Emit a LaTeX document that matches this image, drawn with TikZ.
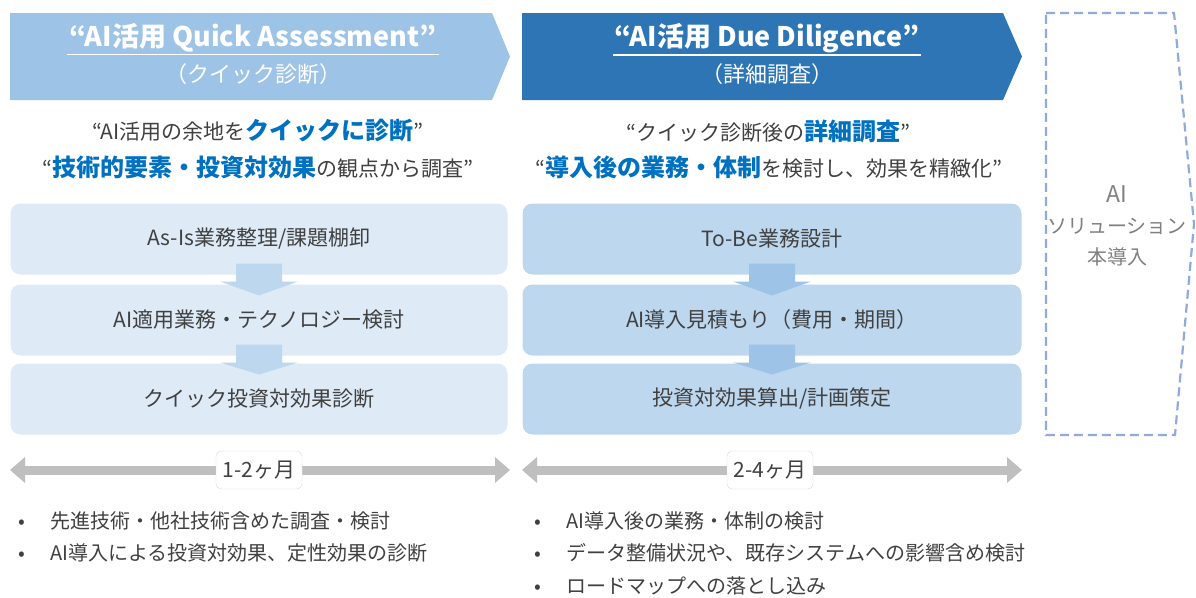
\documentclass[tikz,border=0pt]{standalone}
\usepackage{fontspec}
\setmainfont{Noto Sans CJK JP}
\usepackage{tikz}
\usetikzlibrary{arrows.meta,positioning,calc}
\definecolor{qaBlue}{HTML}{9DC3E6}
\definecolor{ddBlue}{HTML}{2E75B6}
\definecolor{qaFill}{HTML}{DEEBF7}
\definecolor{ddFill}{HTML}{BDD7EE}
\definecolor{qaArrow}{HTML}{BDD7EE}
\definecolor{ddArrow}{HTML}{9DC3E6}
\definecolor{txtGray}{HTML}{404040}
\definecolor{softGray}{HTML}{808080}
\definecolor{keyBlue}{HTML}{0070C0}
\definecolor{barGray}{HTML}{BFBFBF}
\definecolor{dashBlue}{HTML}{8FAADC}
\newcommand{\kw}[1]{{\bfseries\fontsize{24}{28}\selectfont\color{keyBlue}#1}}
\newcommand{\bul}{\makebox[16pt][c]{•}\hspace{20pt}}
% block arrow from the bottom of one step to the top of the next
\newcommand{\stepArrow}[3]{%
 \fill[#1] ($(#2.south)+(-23,-12)$) -- ($(#2.south)+(23,-12)$) -- ($(#2.south)+(23,6)$)
  -- ($(#2.south)+(39,6)$) -- ($(#3.north)+(0,12)$) -- ($(#2.south)+(-39,6)$)
  -- ($(#2.south)+(-23,6)$) -- cycle;}

\begin{document}
\begin{tikzpicture}[x=1pt,y=-1pt,
 title/.style={text=white, font=\bfseries\fontsize{27}{32}\selectfont, inner sep=2pt},
 subtitle/.style={text=white, font=\fontsize{22}{26}\selectfont},
 lead/.style={text=txtGray, font=\fontsize{21}{25}\selectfont},
 qa step/.style={draw=white, line width=1, fill=qaFill, rounded corners=10pt,
  minimum width=498, minimum height=72, text=txtGray, font=\fontsize{21}{25}\selectfont},
 dd step/.style={qa step, fill=ddFill, minimum width=500},
 span/.style={{Triangle[length=15pt,width=25pt]}-{Triangle[length=15pt,width=25pt]},
  line width=9pt, barGray},
 span label/.style={draw=barGray!60, fill=white, rounded corners=5pt, text=txtGray,
  minimum width=86, minimum height=38, font=\fontsize{21}{25}\selectfont},
 item/.style={anchor=west, text=txtGray, font=\fontsize{20}{24}\selectfont, inner sep=0pt}]
\useasboundingbox (0,0) rectangle (1196,597);

% banners
\fill[qaBlue] (10,13) -- (492,13) -- (510,56.5) -- (492,100) -- (10,100) -- cycle;
\fill[ddBlue] (522,13) -- (1003,13) -- (1022,56.5) -- (1003,100) -- (522,100) -- cycle;
\node[title] (qaTitle) at (253,38) {“AI活用 Quick Assessment”};
\node[subtitle] (qaSub) at (253,74) {（クイック診断）};
\node[title] (ddTitle) at (767,38) {“AI活用 Due Diligence”};
\node[subtitle] (ddSub) at (767,74) {（詳細調査）};
\draw[white, line width=1.3] (qaTitle.south west) -- (qaTitle.south east);
\draw[white, line width=1.3] (ddTitle.south west) -- (ddTitle.south east);

\node[lead] (qaLead1) at (258,131) {“AI活用の余地を\kw{クイックに診断}”};
\node[lead] (qaLead2) at (258,167) {“\kw{技術的要素・投資対効果}の観点から調査”};
\node[lead] (ddLead1) at (768,131) {“クイック診断後の\kw{詳細調査}”};
\node[lead] (ddLead2) at (769,167) {“\kw{導入後の業務・体制}を検討し、効果を精緻化”};

% steps
\node[qa step] (qa1) at (259,239) {As-Is業務整理/課題棚卸};
\node[qa step] (qa2) at (259,320) {AI適用業務・テクノロジー検討};
\node[qa step] (qa3) at (259,399) {クイック投資対効果診断};
\node[dd step] (dd1) at (772,239) {To-Be業務設計};
\node[dd step] (dd2) at (772,320) {AI導入見積もり（費用・期間）};
\node[dd step] (dd3) at (772,399) {投資対効果算出/計画策定};
\stepArrow{qaArrow}{qa1}{qa2}
\stepArrow{qaArrow}{qa2}{qa3}
\stepArrow{ddArrow}{dd1}{dd2}
\stepArrow{ddArrow}{dd2}{dd3}

% next phase
\draw[dashBlue, line width=2.2, dash pattern=on 9pt off 5pt]
 (1046,13) -- (1174,13) -- (1194,224) -- (1175,435) -- (1046,435) -- cycle;
\node[align=center, text=softGray, font=\fontsize{20}{31}\selectfont] (impl) at (1117,226)
 {{\fontsize{23}{31}\selectfont AI}\\ソリューション\\本導入};

% duration
\coordinate (qaFrom) at (10,470);
\coordinate (qaTo) at (510,470);
\coordinate (ddFrom) at (522,470);
\coordinate (ddTo) at (1022,470);
\draw[span] (qaFrom) -- (qaTo);
\draw[span] (ddFrom) -- (ddTo);
\node[span label] (qaTime) at (259,470) {1-2ヶ月};
\node[span label] (ddTime) at (770,470) {2-4ヶ月};

% notes
\node[item] (qaNote1) at (14,521) {\bul 先進技術・他社技術含めた調査・検討};
\node[item] (qaNote2) at (14,553) {\bul AI導入による投資対効果、定性効果の診断};
\node[item] (ddNote1) at (530,521) {\bul AI導入後の業務・体制の検討};
\node[item] (ddNote2) at (530,553) {\bul データ整備状況や、既存システムへの影響含め検討};
\node[item] (ddNote3) at (530,586) {\bul ロードマップへの落とし込み};
\end{tikzpicture}
\end{document}
